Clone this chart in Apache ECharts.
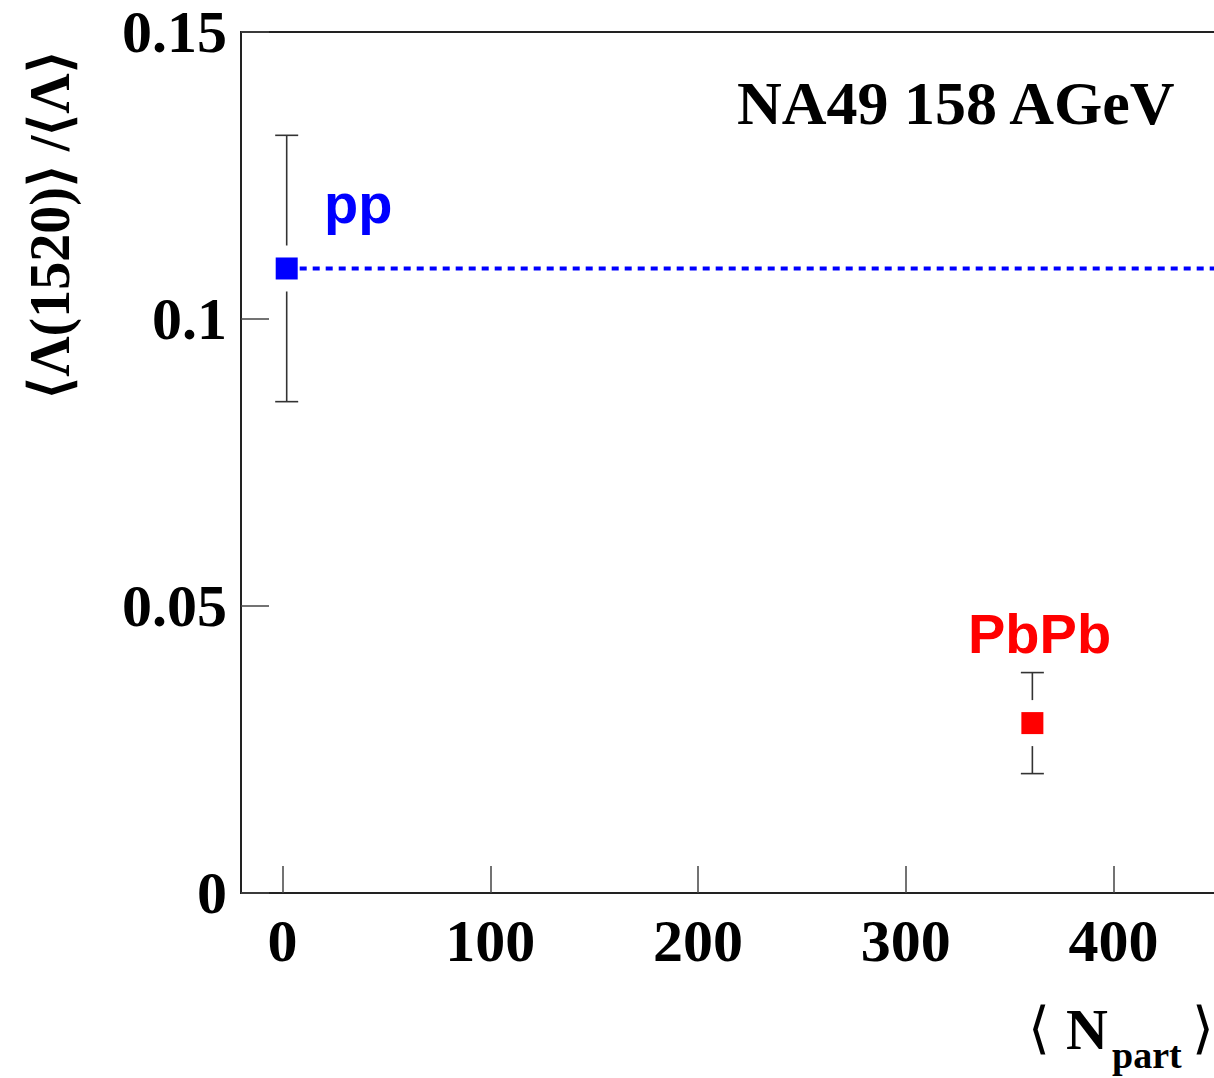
<!DOCTYPE html>
<html>
<head>
<meta charset="utf-8">
<style>
html,body{margin:0;padding:0;background:#fff;}
#chart{width:1214px;height:1078px;}
</style>
<script src="https://cdn.jsdelivr.net/npm/echarts@6/dist/echarts.min.js"></script>
</head>
<body>
<div id="chart"></div>
<script>
// ---- data ----
const systems = ['pp', 'PbPb'];
const npart = [2, 361];
const ratio = [0.1088, 0.0296];
const ratioErr = [0.0232, 0.0088];
const xTicks = [0, 100, 200, 300, 400];
const yTicks = [0, 0.05, 0.1, 0.15];
const yTickLabels = ['0', '0.05', '0.1', '0.15'];
const refLineX = [2, 480];

const pointColors = ['#0000ff', '#ff0000'];
const serif = '"Liberation Serif", "Times New Roman", serif';
const sans = '"Liberation Sans", Arial, sans-serif';

const chart = echarts.init(document.getElementById('chart'), null, {renderer: 'svg'});

const points = npart.map((x, i) => [x, ratio[i], ratioErr[i]]);

const option = {
  backgroundColor: '#ffffff',
  animation: false,
  grid: {left: 241, top: 32, width: 997, height: 861, outerBoundsMode: 'none', containLabel: false,
    show: true, borderColor: '#222', borderWidth: 2, backgroundColor: 'transparent'},
  xAxis: {
    type: 'value', min: -20, max: 460,
    axisLine: {show: true, onZero: false, lineStyle: {color: '#222', width: 2}},
    axisTick: {show: true, inside: true, length: 27, customValues: xTicks, lineStyle: {color: '#444', width: 1.5}},
    axisLabel: {customValues: xTicks, margin: 18, color: '#000', fontFamily: serif, fontWeight: 'bold', fontSize: 60},
    splitLine: {show: false}
  },
  yAxis: {
    type: 'value', min: 0, max: 0.15,
    axisLine: {show: true, onZero: false, lineStyle: {color: '#222', width: 2}},
    axisTick: {show: true, inside: true, length: 28, customValues: yTicks, lineStyle: {color: '#444', width: 1.5}},
    axisLabel: {customValues: yTicks, margin: 14, color: '#000', fontFamily: serif, fontWeight: 'bold', fontSize: 60,
      formatter: v => { const i = yTicks.findIndex(t => Math.abs(t - v) < 1e-9); return i >= 0 ? yTickLabels[i] : ''; }},
    splitLine: {show: false}
  },
  series: [
    {
      type: 'line', data: refLineX.map(x => [x, ratio[0]]), symbol: 'none', silent: true,
      lineStyle: {color: '#0000ff', width: 4, type: [7, 6]}, z: 1
    },
    {
      type: 'custom', data: points, z: 2,
      renderItem: function (params, api) {
        const x = api.value(0), y = api.value(1), e = api.value(2);
        const c = api.coord([x, y]);
        const top = api.coord([x, y + e])[1];
        const bot = api.coord([x, y - e])[1];
        const gap = 23, cap = 11.5;
        const st = {stroke: '#333', lineWidth: 1.6};
        const ch = [];
        if (c[1] - gap > top) ch.push({type: 'line', shape: {x1: c[0], y1: top, x2: c[0], y2: c[1] - gap}, style: st});
        if (bot > c[1] + gap) ch.push({type: 'line', shape: {x1: c[0], y1: c[1] + gap, x2: c[0], y2: bot}, style: st});
        ch.push({type: 'line', shape: {x1: c[0] - cap, y1: top, x2: c[0] + cap, y2: top}, style: st});
        ch.push({type: 'line', shape: {x1: c[0] - cap, y1: bot, x2: c[0] + cap, y2: bot}, style: st});
        return {type: 'group', children: ch};
      }
    },
    {
      type: 'scatter', data: points.map(p => [p[0], p[1]]), symbol: 'rect', symbolSize: 22, z: 3,
      itemStyle: {opacity: 1, color: p => pointColors[p.dataIndex]}
    }
  ],
  graphic: [
    {type: 'text', left: 737, top: 72, style: {text: 'NA49 158 AGeV', font: 'bold 62px ' + serif, fill: '#000'}},
    {type: 'text', left: 324, top: 175, style: {text: systems[0], font: 'bold 56px ' + sans, fill: '#0000ff'}},
    {type: 'text', left: 968, top: 605, style: {text: systems[1], font: 'bold 56px ' + sans, fill: '#ff0000'}},
    {type: 'text', x: 50, y: 225, rotation: Math.PI / 2,
      style: {text: '⟨Λ(1520)⟩ /⟨Λ⟩', font: 'bold 56px ' + serif, fill: '#000', align: 'center', verticalAlign: 'middle'}},
    {type: 'text', left: 1028, top: 1000, style: {text: '⟨', font: '56px ' + serif, fill: '#000'}},
    {type: 'text', left: 1066, top: 1000, style: {text: 'N', font: 'bold 58px ' + serif, fill: '#000'}},
    {type: 'text', left: 1112, top: 1036, style: {text: 'part', font: 'bold 38px ' + serif, fill: '#000'}},
    {type: 'text', left: 1192, top: 1000, style: {text: '⟩', font: '56px ' + serif, fill: '#000'}}
  ]
};
chart.setOption(option);
</script>
</body>
</html>
